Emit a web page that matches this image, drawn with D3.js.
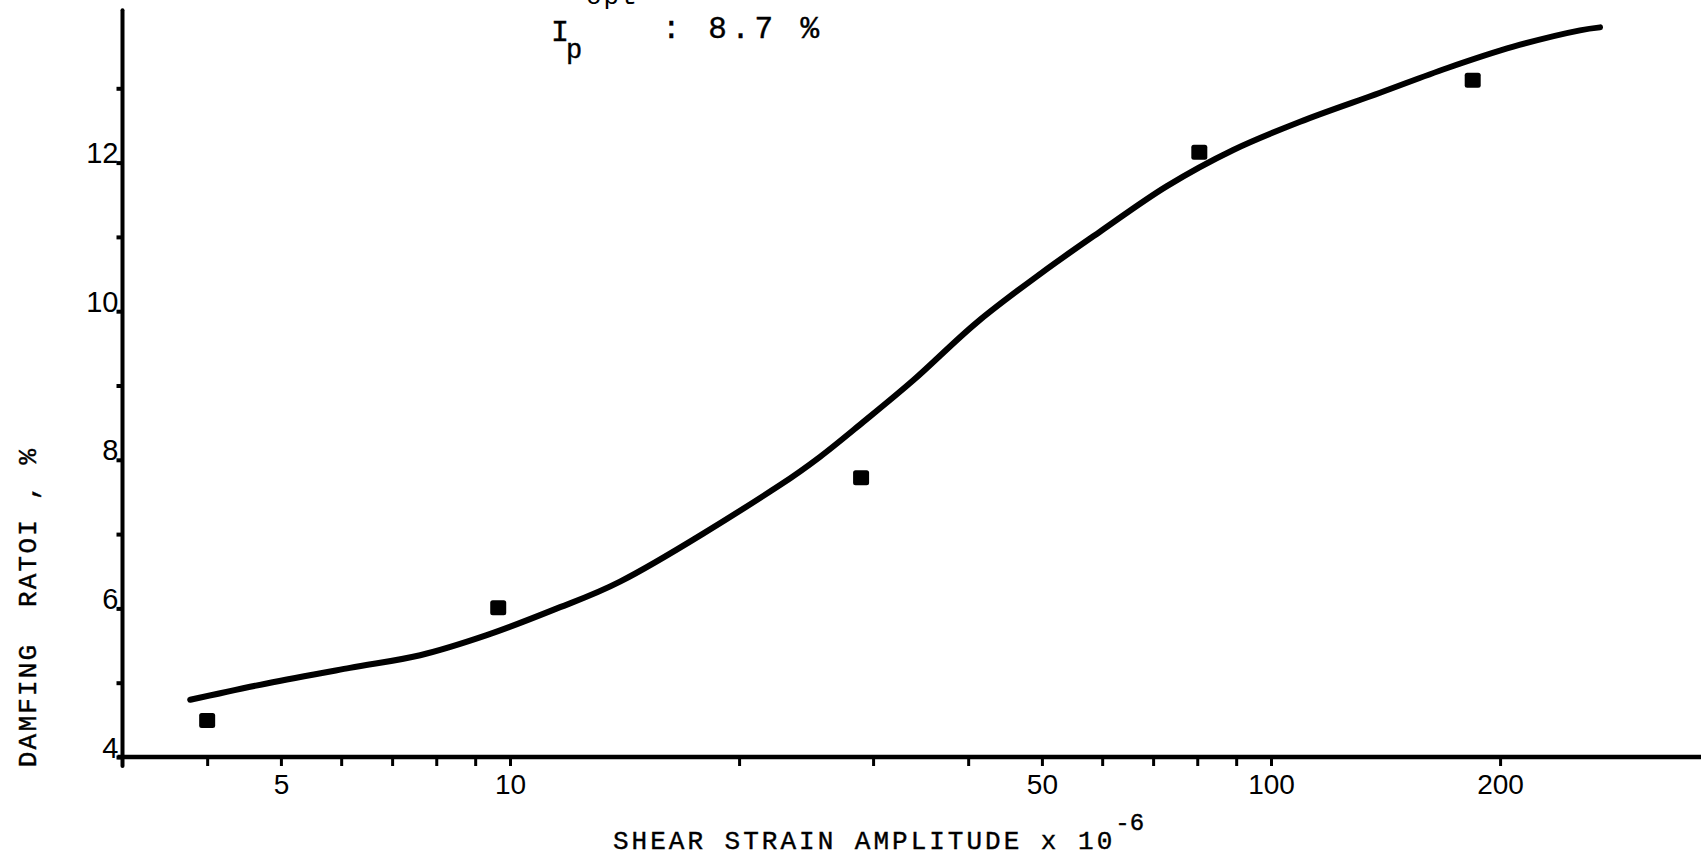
<!DOCTYPE html>
<html><head><meta charset="utf-8">
<script src="https://cdn.jsdelivr.net/npm/d3@7"></script>
<style>html,body{margin:0;padding:0;background:#fff;overflow:hidden}</style>
</head><body><svg id="c" width="1701" height="858"></svg>
<script>
// ---- data ----
const curveStrain  = [3.80,4.79,6.16,7.62,9.32,11.40,13.95,22.64,25.55,29.13,33.88,40.97,49.86,59.6,72.9,89.2,109.2,139.1,170.2,208.2,254.7,270.6];
const curveDamping = [4.77,4.99,5.20,5.37,5.64,5.98,6.36,7.66,8.04,8.51,9.07,9.84,10.51,11.07,11.68,12.17,12.55,12.94,13.27,13.56,13.78,13.82];
const pointStrain  = [4.00,9.65,28.93,80.5,184.1];
const pointDamping = [4.49,6.01,7.76,12.14,13.11];
const xTickValues  = [4,5,6,7,8,9,10,20,30,40,50,60,70,80,90,100,200];
const xTickLabels  = [5,10,50,100,200];
const yTickValues  = [4,5,6,7,8,9,10,11,12,13];
const yTickLabels  = [4,6,8,10,12];
const xTitle = "SHEAR STRAIN AMPLITUDE x 10";
const xTitleExp = "-6";
const yTitle = "DAMFING  RATOI , %";
const noteLabel = "I", noteSub = "p", noteValue = ": 8.7 %", noteCut = "opt";

const svg = d3.select("#c");
svg.append("rect").attr("width",1701).attr("height",858).attr("fill","#fff");

const x = d3.scaleLog().domain([10,100]).range([510,1271]);
const y = d3.scaleLinear().domain([4,12]).range([757,162.6]);

const xMinV = 3.05, xMaxV = 380, yMaxV = 14.05;
const yAxisX = 122.5;

// axes lines
svg.append("line").attr("x1",x(xMinV)).attr("x2",x(xMaxV)).attr("y1",y(4)).attr("y2",y(4))
  .attr("stroke","#000").attr("stroke-width",4.5);
svg.append("line").attr("x1",yAxisX).attr("x2",yAxisX).attr("y1",y(4)+9).attr("y2",y(yMaxV))
  .attr("stroke","#000").attr("stroke-width",4).attr("stroke-linecap","round");

// x ticks
const xAxis = d3.axisBottom(x).tickValues(xTickValues).tickSizeOuter(0).tickSize(9)
  .tickFormat(d => xTickLabels.includes(d) ? String(d) : "");
const gx = svg.append("g").attr("transform",`translate(0,${y(4)})`).call(xAxis);
gx.select(".domain").remove();
gx.selectAll(".tick line").attr("stroke","#000").attr("stroke-width",3);
gx.selectAll(".tick text").attr("fill","#000").attr("font-family","Liberation Sans, Arial, sans-serif")
  .attr("font-size",28).attr("dy",0).attr("y",37);

// y ticks
const yAxis = d3.axisLeft(y).tickValues(yTickValues).tickSizeOuter(0).tickSize(6)
  .tickFormat(d => yTickLabels.includes(d) ? String(d) : "");
const gy = svg.append("g").attr("transform",`translate(${yAxisX},0)`).call(yAxis);
gy.select(".domain").remove();
gy.selectAll(".tick line").attr("stroke","#000").attr("stroke-width",4);
gy.selectAll(".tick text").attr("fill","#000").attr("font-family","Liberation Sans Narrow, Liberation Sans, Arial, sans-serif")
  .attr("font-size",29).attr("dy",0).attr("x",-4);

// curve
const pts = curveStrain.map((s,i)=>[s,curveDamping[i]]);
const line = d3.line().x(d=>x(d[0])).y(d=>y(d[1])).curve(d3.curveCatmullRom.alpha(0.5));
svg.append("path").attr("d",line(pts)).attr("fill","none").attr("stroke","#000")
  .attr("stroke-width",6).attr("stroke-linecap","round").attr("stroke-linejoin","round");

// points
svg.selectAll("rect.pt").data(pointStrain.map((s,i)=>[s,pointDamping[i]])).enter()
  .append("rect").attr("class","pt")
  .attr("x",d=>x(d[0])-8).attr("y",d=>y(d[1])-7.5).attr("width",16).attr("height",15)
  .attr("rx",2.5).attr("fill","#000");

// titles
const mono = "Liberation Mono, Courier New, monospace";
const xt = svg.append("text").attr("x",613).attr("y",849).attr("font-family",mono)
  .attr("font-size",26).attr("letter-spacing",3.0).attr("fill","#000")
  .attr("stroke","#000").attr("stroke-width",0.4).text(xTitle);
xt.append("tspan").attr("dy",-19).attr("dx",0).attr("font-size",24).attr("letter-spacing",0).text(xTitleExp);

svg.append("text").attr("transform","translate(36,607) rotate(-90)").attr("text-anchor","middle")
  .attr("font-family",mono).attr("font-size",26).attr("letter-spacing",2.2)
  .attr("stroke","#000").attr("stroke-width",0.4)
  .style("white-space","pre").attr("fill","#000").text(yTitle);

// annotation at top
svg.append("text").attr("x",586).attr("y",4).attr("font-family",mono).attr("font-size",26)
  .attr("letter-spacing",2).attr("fill","#000").text(noteCut);
svg.append("text").attr("x",551).attr("y",41).attr("font-family",mono).attr("font-size",30)
  .attr("stroke","#000").attr("stroke-width",0.4).attr("fill","#000").text(noteLabel);
svg.append("text").attr("x",566).attr("y",58).attr("font-family",mono).attr("font-size",27)
  .attr("stroke","#000").attr("stroke-width",0.4).attr("fill","#000").text(noteSub);
svg.append("text").attr("x",662).attr("y",38).attr("font-family",mono).attr("font-size",31)
  .attr("letter-spacing",4.5).attr("stroke","#000").attr("stroke-width",0.4)
  .style("white-space","pre").attr("fill","#000").text(noteValue);
</script></body></html>
